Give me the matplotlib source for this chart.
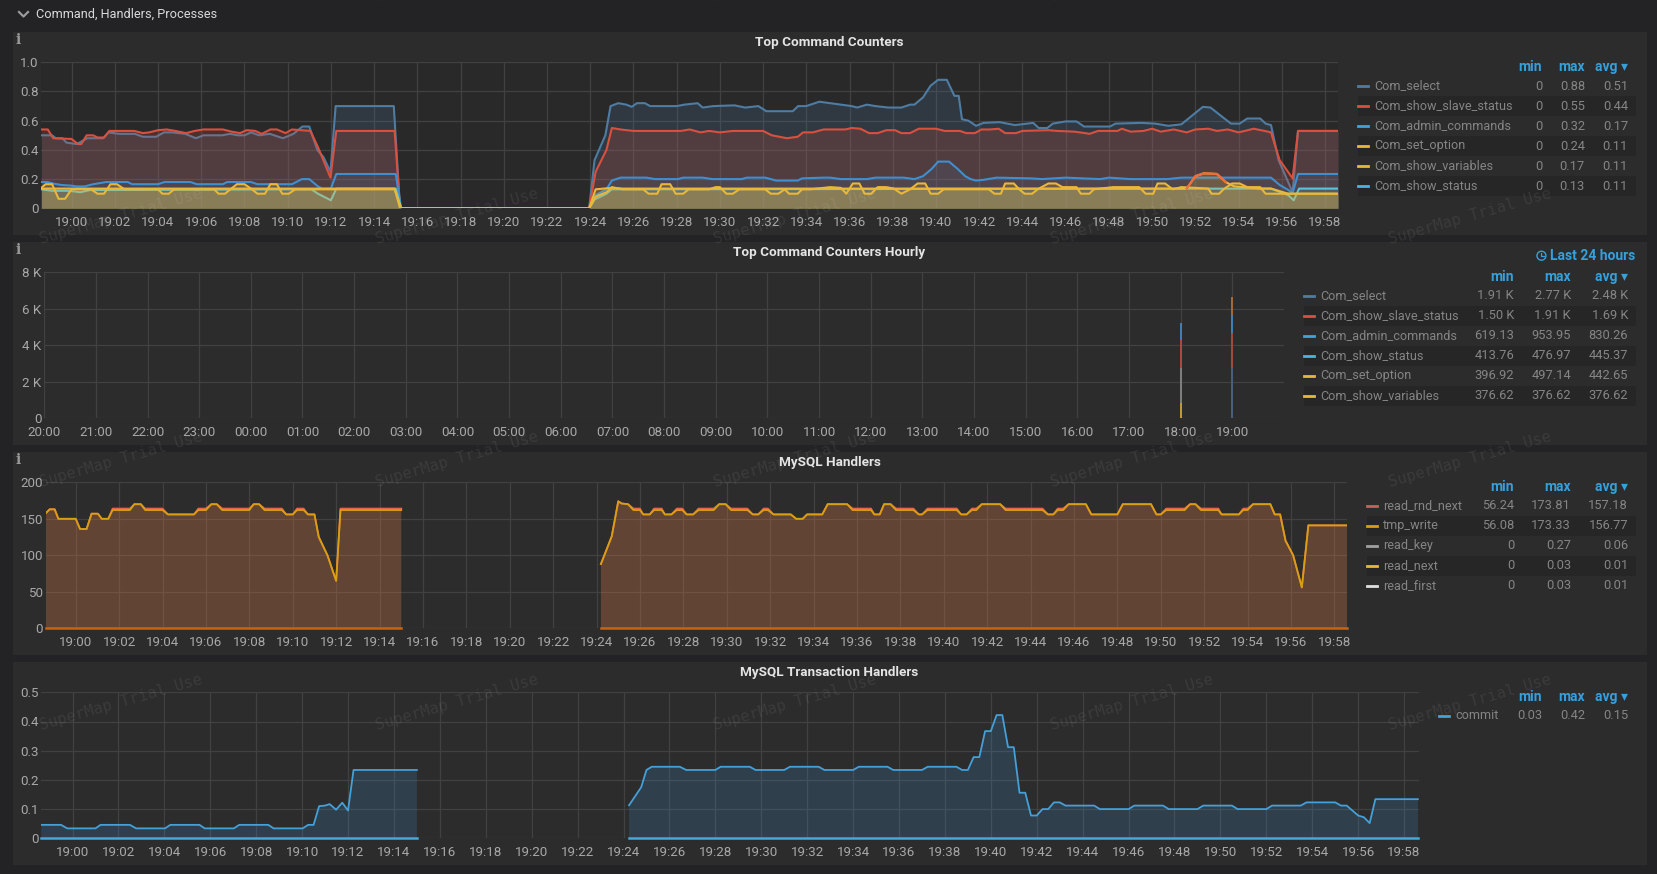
import numpy as np
import matplotlib
matplotlib.use("Agg")
import matplotlib.pyplot as plt
from matplotlib.lines import Line2D
from matplotlib.patches import Rectangle

W, H = 1657, 874
nan = np.nan
plt.rcParams['font.family'] = ['Roboto', 'DejaVu Sans']

# Top Command Counters: as (minute after 19:00, value)
t_select = [-1.4,-.9,-.73,-.42,-.24,.24,.73,1.47,1.71,2.2,2.93,3.3,3.91,4.28,4.65,5.26,5.75,6.11,6.97,7.33,7.7,8.0,8.31,8.68,9.17,9.78,10.27,10.68,11.0,11.37,11.66,11.98,12.22,14.91,15.2,23.95,24.2,24.7,24.94,25.3,25.67,25.92,26.16,26.53,26.77,28,28.36,28.97,29.2,29.7,30.68,31.17,31.78,32.15,33.37,33.62,33.99,34.6,35.1,36.1,36.35,36.8,37.2,37.8,38.4,38.8,39,39.4,39.75,40.1,40.5,40.85,41.05,41.2,41.5,41.85,42.2,42.95,43.65,44.5,44.75,45.15,45.4,46,46.5,46.85,48.05,48.3,49.5,50.15,50.75,51.35,51.85,52.35,52.7,53.3,53.65,54.05,54.4,55,55.25,55.5,55.85,56.5,56.75,58.6]
v_select = [.50,.50,.48,.48,.45,.44,.48,.48,.52,.51,.51,.49,.49,.52,.52,.51,.48,.50,.50,.51,.50,.50,.52,.50,.51,.48,.51,.56,.56,.40,.35,.25,.70,.70,0,0,.33,.50,.70,.72,.71,.695,.72,.72,.70,.70,.71,.72,.69,.70,.705,.69,.70,.665,.665,.70,.70,.73,.72,.70,.69,.71,.70,.69,.69,.71,.71,.76,.84,.88,.88,.77,.77,.61,.60,.565,.585,.59,.57,.585,.55,.55,.58,.595,.595,.56,.56,.58,.585,.58,.565,.575,.635,.695,.69,.62,.58,.58,.615,.615,.58,.57,.33,.11,.53,.53]

t_slave = [-1.4,-1.1,-.85,0,.3,.45,.7,1,1.2,1.5,1.75,2.9,3.3,3.6,4,4.4,4.8,5.3,5.7,6.1,7,7.4,7.8,8.1,8.5,8.8,9.2,9.5,9.9,10.2,11.05,11.4,11.98,12.25,14.95,15.2,23.95,24.25,24.75,25,25.4,26,28.2,28.6,29.1,29.5,30,30.6,32,32.4,33.1,33.6,33.85,34.3,34.8,35.1,35.8,36.1,36.5,36.9,37.3,37.7,38.1,38.4,38.8,39.2,40,40.4,41.1,41.4,41.8,42.1,42.5,42.9,43.2,43.7,44,45.2,45.6,46.4,46.9,47.1,47.5,48.4,48.6,49,49.6,50,50.4,51,51.6,52,52.6,53,53.5,54,54.7,55.2,55.5,55.9,56.5,56.75,58.6]
v_slave = [.54,.54,.48,.475,.44,.44,.50,.50,.485,.485,.53,.53,.515,.52,.535,.54,.53,.515,.53,.54,.54,.525,.515,.535,.53,.51,.54,.54,.515,.54,.53,.42,.21,.53,.53,0,0,.25,.40,.55,.54,.53,.53,.54,.52,.53,.52,.53,.53,.50,.48,.49,.52,.52,.54,.54,.54,.55,.545,.515,.515,.535,.535,.515,.515,.545,.545,.53,.53,.515,.515,.54,.54,.545,.515,.515,.53,.535,.53,.525,.515,.51,.53,.53,.545,.525,.53,.545,.525,.54,.52,.54,.545,.53,.54,.52,.545,.53,.52,.33,.205,.53,.53]

t_admin = [-1.4,-1.1,-.86,-.49,0,.25,.6,1,1.6,2.6,2.8,4,4.3,5.5,5.8,7,7.2,8.3,8.6,10.2,10.66,11,11.4,11.6,12,12.25,15,15.25,23.95,24.25,24.75,25,25.4,26.6,27,28.06,28.3,29.2,29.65,31,31.25,32.1,32.6,33.6,33.8,34.8,35.1,35.6,36.8,37.2,38.5,39,39.4,39.8,40.1,40.6,41,41.35,41.6,41.85,42.2,42.8,44.4,44.9,46,47.6,48,49,50.7,51.35,55.5,55.9,56.25,56.5,56.75,58.6]
v_admin = [.18,.18,.17,.16,.155,.15,.15,.165,.18,.18,.165,.165,.18,.18,.165,.165,.18,.18,.165,.165,.20,.20,.15,.135,.135,.235,.235,0,0,.09,.13,.19,.21,.21,.20,.20,.21,.21,.20,.20,.21,.21,.19,.19,.205,.21,.21,.20,.20,.21,.21,.20,.22,.27,.32,.32,.27,.22,.20,.19,.195,.21,.205,.20,.21,.20,.21,.20,.20,.21,.21,.16,.13,.105,.235,.235]

t_set = [-1.4,14.95,15.2,23.95,24.25,25,25.5,51.6,52,52.4,53,53.4,53.8,55,55.5,56.3,58.6]
v_set = [.135,.135,0,0,.13,.14,.135,.135,.22,.24,.235,.18,.15,.135,.135,.10,.10]

t_vars = [-1.4,-1.2,-.9,-.6,-.3,0,.9,1.2,1.5,1.8,2.1,2.45,4,4.2,4.5,4.75,6.6,6.8,7.1,7.35,7.65,8,8.35,8.6,8.95,9.2,9.5,9.75,10.05,10.35,12,14.95,15.25,23.95,24.25,24.75,25,25.5,26.45,26.7,27.1,27.3,27.7,27.95,28.3,28.55,29.5,29.8,30,30.3,30.6,30.9,32.1,32.35,32.7,33,33.2,33.6,33.8,34.2,35.1,35.6,35.85,36.15,36.45,36.7,37,37.3,37.7,38.05,38.4,38.8,39.15,39.5,39.75,40.1,40.35,42.45,42.7,43,43.2,43.6,43.85,44.1,44.45,44.7,45.2,45.55,45.85,46.5,46.7,47.1,47.3,48.2,49.4,49.7,50.05,50.25,50.6,50.95,51.35,52.6,52.75,53.1,53.3,53.7,54.05,54.4,55,55.25,56.35,58.6]
v_vars = [.14,.165,.165,.065,.065,.13,.13,.10,.10,.165,.165,.13,.13,.10,.10,.13,.13,.10,.10,.13,.165,.165,.13,.10,.10,.165,.165,.10,.10,.13,.13,.13,0,0,.08,.11,.145,.13,.13,.10,.10,.165,.165,.10,.10,.13,.13,.145,.145,.10,.10,.13,.13,.10,.10,.13,.10,.10,.13,.13,.145,.14,.10,.17,.17,.10,.10,.145,.145,.135,.10,.13,.17,.17,.10,.10,.13,.13,.10,.10,.17,.17,.13,.10,.10,.13,.17,.17,.145,.145,.10,.10,.13,.145,.145,.10,.10,.17,.17,.13,.145,.135,.10,.10,.13,.17,.17,.145,.145,.10,.10,.10]

t_status = [-1.4,-.9,-.1,.4,.85,11.1,11.4,12,12.25,15,15.25,23.95,24.2,24.75,25,55.5,56.3,56.55,56.8,58.6]
v_status = [.13,.12,.12,.11,.125,.13,.10,.055,.135,.135,0,0,.06,.10,.13,.135,.09,.055,.135,.135]

# MySQL Handlers
t_tmp = [-1.37,-1.2,-.97,-.8,0,.2,.5,.73,1.02,1.2,1.5,1.7,2.5,2.7,3,3.2,4,4.25,5.45,5.65,6,6.25,6.5,6.75,8,8.2,8.45,8.7,9.5,9.7,10,10.2,10.5,10.7,11,11.2,11.6,12,12.2,15,15.01,24.19,24.2,24.7,25,25.15,25.45,25.7,26,26.15,26.45,26.65,27,27.15,27.45,27.7,27.95,28.15,28.45,28.7,29.4,29.65,29.95,30.2,30.95,31.2,31.45,31.7,31.9,32.15,32.95,33.2,33.5,33.7,34.4,34.65,35.55,35.8,36.65,36.8,37.05,37.25,37.55,37.8,38.6,38.85,39,39.25,40.6,40.8,41.05,41.3,41.5,41.75,42.6,42.85,44.55,44.8,45.05,45.25,45.5,45.75,46.55,46.8,48,48.25,49.55,49.8,50,50.25,51.1,51.35,51.6,51.85,52.65,52.8,53.6,53.8,54,54.25,55.05,55.25,55.5,55.75,56.1,56.5,56.8,58.6]
v_tmp = [158,163,163,150,150,136,136,157,157,150,150,162,162,170,170,162,162,156,156,162,162,170,170,162,162,170,170,162,162,156,156,162,162,156,156,125,100,65,162,162,nan,nan,88,126,174,171,170,162,162,156,156,162,162,156,156,162,162,156,156,162,162,170,170,162,162,156,156,162,162,156,156,150,150,156,156,170,170,162,162,156,156,170,170,162,162,156,156,162,162,156,156,162,162,170,170,162,162,156,156,162,162,170,170,156,156,170,170,156,156,162,162,170,170,162,162,156,156,162,162,170,170,156,156,120,100,56,141,141]
t_rnd = [-1.37,-1.2,-.97,-.8,0,.2,.5,.73,1.02,1.2,1.5,1.7,2.5,2.7,3,3.2,4,4.25,5.45,5.65,6,6.25,6.5,6.75,8,8.2,8.45,8.7,9.5,9.7,10,10.2,10.5,10.7,11,11.2,11.6,12,12.2,15,15.01,24.19,24.2,24.7,25,25.15,25.45,25.7,26,26.15,26.45,26.65,27,27.15,27.45,27.7,27.95,28.15,28.45,28.7,29.4,29.65,29.95,30.2,30.95,31.2,31.45,31.7,31.9,32.15,32.95,33.2,33.5,33.7,34.4,34.65,35.55,35.8,36.65,36.8,37.05,37.25,37.55,37.8,38.6,38.85,39,39.25,40.6,40.8,41.05,41.3,41.5,41.75,42.6,42.85,44.55,44.8,45.05,45.25,45.5,45.75,46.55,46.8,48,48.25,49.55,49.8,50,50.25,51.1,51.35,51.6,51.85,52.65,52.8,53.6,53.8,54,54.25,55.05,55.25,55.5,55.75,56.1,56.5,56.8,58.6]
v_rnd = [158,163,163,150,150,136,136,157,157,150,150,164,164,170,170,164,164,156,156,164,164,170,170,164,164,170,170,164,164,156,156,164,164,156,156,125,100,65,164,164,nan,nan,88,126,174,171,170,164,164,156,156,164,164,156,156,164,164,156,156,164,164,170,170,164,164,156,156,164,164,156,156,150,150,156,156,170,170,164,164,156,156,170,170,164,164,156,156,164,164,156,156,164,164,170,170,164,164,156,156,164,164,170,170,156,156,170,170,156,156,164,164,170,170,164,164,156,156,164,164,170,170,156,156,120,100,56,141,141]

# MySQL Transaction Handlers
t_commit = [-1.36,-.5,-.23,1,1.22,2.5,2.77,4.03,4.26,5.53,5.76,7.03,7.26,8.53,8.76,10.03,10.26,10.5,10.74,11,11.2,11.48,11.75,12,12.24,15,15.01,24.23,24.24,24.77,25,25.23,26.45,26.73,28,28.23,29.5,29.75,31,31.25,32.5,32.75,34,34.25,35.5,35.75,37,37.25,38.5,38.75,39,39.25,39.5,39.75,40,40.25,40.5,40.75,41,41.25,41.5,41.75,42,42.25,42.5,42.75,43,43.25,44.5,44.75,46,46.25,47.5,47.75,49,49.25,50.5,50.75,52,52.25,53.5,53.75,55,55.25,55.5,56,56.25,56.5,56.75,58.6]
v_commit = [.046,.046,.034,.034,.046,.046,.034,.034,.046,.046,.034,.034,.046,.046,.034,.034,.046,.046,.11,.112,.117,.098,.122,.095,.234,.234,nan,nan,.113,.175,.234,.245,.245,.234,.234,.245,.245,.234,.234,.245,.245,.234,.234,.245,.245,.234,.234,.245,.245,.234,.234,.278,.278,.367,.367,.422,.422,.312,.312,.156,.156,.078,.078,.10,.10,.123,.123,.112,.112,.10,.10,.112,.112,.10,.10,.112,.112,.10,.10,.112,.112,.123,.123,.112,.112,.078,.072,.052,.134,.134]

# Top Command Counters Hourly: stacked pieces at the two hours that have data
hour_18 = [820, 1920, 1550, 910]
hour_19 = [2740, 1920, 1000, 1010]

minute_ticks = np.arange(0, 60, 2)
minute_labels = ['19:%02d' % m for m in minute_ticks]
hour_labels = ['20:00','21:00','22:00','23:00','00:00','01:00','02:00','03:00','04:00','05:00','06:00','07:00','08:00','09:00','10:00','11:00','12:00','13:00','14:00','15:00','16:00','17:00','18:00','19:00']

legend_top_names = ['Com_select','Com_show_slave_status','Com_admin_commands','Com_set_option','Com_show_variables','Com_show_status']
legend_top_min = ['0','0','0','0','0','0']
legend_top_max = ['0.88','0.55','0.32','0.24','0.17','0.13']
legend_top_avg = ['0.51','0.44','0.17','0.11','0.11','0.11']
legend_hourly_names = ['Com_select','Com_show_slave_status','Com_admin_commands','Com_show_status','Com_set_option','Com_show_variables']
legend_hourly_min = ['1.91 K','1.50 K','619.13','413.76','396.92','376.62']
legend_hourly_max = ['2.77 K','1.91 K','953.95','476.97','497.14','376.62']
legend_hourly_avg = ['2.48 K','1.69 K','830.26','445.37','442.65','376.62']
legend_hand_names = ['read_rnd_next','tmp_write','read_key','read_next','read_first']
legend_hand_min = ['56.24','56.08','0','0','0']
legend_hand_max = ['173.81','173.33','0.27','0.03','0.03']
legend_hand_avg = ['157.18','156.77','0.06','0.01','0.01']

BLUE_D, RED, BLUE, YEL, SKY = '#4f7ca2', '#d9503f', '#3fa4dc', '#eab839', '#48b4e0'
PAGE, PANEL, PLOT = '#232325', '#2c2c2c', '#292929'
GRID, TICK, LEG = '#414141', '#a8a8a8', '#858585'
HEAD = '#35a0dc'

fig = plt.figure(figsize=(W / 100, H / 100), dpi=100, facecolor=PAGE)


def fx(x):
    return x / W


def fy(y):
    return 1 - y / H


def panel_box(x0, y0, x1, y1):
    fig.add_artist(Rectangle((fx(x0), fy(y1)), (x1 - x0) / W, (y1 - y0) / H, transform=fig.transFigure,
                             facecolor=PANEL, edgecolor='none', zorder=-5))


def make_axes(x0, y0, x1, y1, xlim, ylim, xticks, xlabels, yticks, ylabels, bg=PANEL):
    ax = fig.add_axes([fx(x0), fy(y1), (x1 - x0) / W, (y1 - y0) / H], facecolor=bg)
    ax.set_xlim(xlim)
    ax.set_ylim(ylim)
    ax.set_xticks(xticks, xlabels)
    ax.set_yticks(yticks, ylabels)
    ax.tick_params(length=0, colors=TICK, labelsize=9.6)
    ax.tick_params(axis='x', pad=5.5)
    ax.tick_params(axis='y', pad=2)
    ax.grid(True, color=GRID, lw=0.9)
    ax.set_axisbelow(True)
    for s in ax.spines.values():
        s.set_visible(False)
    return ax


def legend_table(names, mins, maxs, avgs, colors, head_y, sw_x, text_x, cols, band_right):
    rows = len(names)
    for lab, cx in zip(['min', 'max', 'avg \u25be'], cols):
        fig.text(fx(cx), fy(head_y), lab, color=HEAD, fontsize=10, fontweight='bold', ha='right', va='center')
    for i in range(rows):
        y = head_y + 19 + 20 * i
        if i % 2 == 1:
            fig.add_artist(Rectangle((fx(sw_x), fy(y + 10)), (band_right - sw_x) / W, 20 / H,
                                     transform=fig.transFigure, facecolor='#262626', edgecolor='none', zorder=-4))
        fig.add_artist(Line2D([fx(sw_x), fx(sw_x + 10)], [fy(y), fy(y)], color=colors[i], lw=2))
        fig.text(fx(text_x), fy(y), names[i], color=LEG, fontsize=9.1, ha='left', va='center')
        for val, cx in zip([mins[i], maxs[i], avgs[i]], cols):
            fig.text(fx(cx), fy(y), val, color=LEG, fontsize=9.3, ha='right', va='center')


def area(ax, t, v, color, alpha=0.2, lw=1.5, z=3):
    ax.fill_between(t, 0, v, color=color, alpha=alpha, lw=0, zorder=z)
    ax.plot(t, v, color=color, lw=lw, zorder=z + 0.1, solid_joinstyle='round')


# panels
for box in [(13, 32, 1647, 235), (13, 242, 1647, 445), (13, 452, 1647, 655), (13, 662, 1647, 865)]:
    panel_box(*box)

# section header
fig.add_artist(Line2D([fx(19), fx(23.5), fx(28)], [fy(12), fy(16.5), fy(12)], color='#9a9a9a', lw=1.6))
fig.text(fx(36), fy(14), 'Command, Handlers, Processes', color='#d8d9da', fontsize=9.2, ha='left', va='center')

# Top Command Counters
ax1 = make_axes(41.3, 62.3, 1338, 208.3, (-1.4, 58.6), (0, 1.0), minute_ticks, minute_labels,
                [0, .2, .4, .6, .8, 1.0], ['0', '0.2', '0.4', '0.6', '0.8', '1.0'], bg=PLOT)
area(ax1, t_select, v_select, BLUE_D, z=3)
area(ax1, t_slave, v_slave, RED, z=3.2)
area(ax1, t_admin, v_admin, '#3f8fd0', alpha=0.1, z=3.4)
area(ax1, t_status, v_status, '#5fc4d8', z=3.6)
area(ax1, t_set, v_set, YEL, z=3.8)
area(ax1, t_vars, v_vars, YEL, z=4)
ax1.plot(t_set[7:12], v_set[7:12], color='#ef6a3c', lw=1.6, zorder=5)
fig.text(fx(829.5), fy(42.5), 'Top Command Counters', color='#e4e4e4', fontsize=9.7, fontweight='bold', ha='center', va='center')
legend_table(legend_top_names, legend_top_min, legend_top_max, legend_top_avg,
             [BLUE_D, RED, BLUE, YEL, YEL, SKY], 67, 1358, 1374, (1542, 1585, 1628), 1636)

# Top Command Counters Hourly
ax2 = make_axes(44.2, 272.3, 1284, 418.3, (0, 24), (0, 8000), np.arange(24), hour_labels,
                [0, 2000, 4000, 6000, 8000], ['0', '2 K', '4 K', '6 K', '8 K'])
colors_18 = ['#c09a30', '#7d7d7d', '#b0493c', '#3f7fb5']
colors_19 = ['#46607c', '#a04a3a', '#3f7fb5', '#a06a3c']
for hour_x, pieces, cols in [(22, hour_18, colors_18), (23, hour_19, colors_19)]:
    ax2.bar([hour_x] * len(pieces), pieces, bottom=np.r_[0, np.cumsum(pieces)[:-1]], width=0.035, color=cols, zorder=3)
fig.text(fx(829.5), fy(252.7), 'Top Command Counters Hourly', color='#e4e4e4', fontsize=9.7, fontweight='bold', ha='center', va='center')
last = fig.text(fx(1635.7), fy(255.7), 'Last 24 hours', color=HEAD, fontsize=10, fontweight='bold', ha='right', va='center')
fig.canvas.draw()
bb = last.get_window_extent()
fig.add_artist(plt.Circle((bb.x0 - 9, bb.y0 + bb.height / 2), 4.5, transform=None, fill=False, edgecolor=HEAD, lw=1))
fig.add_artist(Line2D([bb.x0 - 9, bb.x0 - 9, bb.x0 - 6.5], [bb.y0 + bb.height / 2 + 3, bb.y0 + bb.height / 2, bb.y0 + bb.height / 2],
                      transform=None, color=HEAD, lw=0.9))
legend_table(legend_hourly_names, legend_hourly_min, legend_hourly_max, legend_hourly_avg,
             [BLUE_D, RED, BLUE, SKY, YEL, YEL], 276.7, 1304, 1320, (1514, 1571, 1628), 1636)

# MySQL Handlers
ax3 = make_axes(46, 482.3, 1347.4, 628.3, (-1.37, 58.6), (0, 200), minute_ticks, minute_labels,
                [0, 50, 100, 150, 200], ['0', '50', '100', '150', '200'])
ax3.fill_between(t_rnd, 0, v_rnd, color='#e0704f', alpha=0.25, lw=0, zorder=3)
ax3.fill_between(t_tmp, 0, v_tmp, color='#d8a040', alpha=0.08, lw=0, zorder=3.1)
ax3.plot(t_rnd, v_rnd, color='#e0654a', lw=1.3, zorder=3.4)
ax3.plot(t_tmp, v_tmp, color='#d8a010', lw=1.3, zorder=3.6)
ax3.plot(t_tmp, np.where(np.isnan(v_tmp), nan, 0), color='#c8640f', lw=1.8, zorder=4, clip_on=False)
fig.text(fx(829.5), fy(462.7), 'MySQL Handlers', color='#e4e4e4', fontsize=9.7, fontweight='bold', ha='center', va='center')
legend_table(legend_hand_names, legend_hand_min, legend_hand_max, legend_hand_avg,
             ['#c9605a', '#d8a010', '#a0a0a0', YEL, '#e0e0e0'], 486.7, 1367, 1383, (1514, 1571, 1628), 1636)

# MySQL Transaction Handlers
ax4 = make_axes(41.3, 692.3, 1419, 838.3, (-1.36, 58.65), (0, 0.5), minute_ticks, minute_labels,
                [0, .1, .2, .3, .4, .5], ['0', '0.1', '0.2', '0.3', '0.4', '0.5'])
ax4.fill_between(t_commit, 0, v_commit, color='#3f8fd0', alpha=0.2, lw=0, zorder=3)
ax4.plot(t_commit, v_commit, color='#44a0d8', lw=1.3, zorder=3.5)
ax4.plot(t_commit, np.where(np.isnan(v_commit), nan, 0), color='#44a8d8', lw=1.8, zorder=4, clip_on=False)
fig.text(fx(829.5), fy(672.7), 'MySQL Transaction Handlers', color='#e4e4e4', fontsize=9.7, fontweight='bold', ha='center', va='center')
legend_table(['commit'], ['0.03'], ['0.42'], ['0.15'], [BLUE], 696.7, 1439, 1455, (1542, 1585, 1628), 1636)

# info marks
for y in (40, 249.5, 460):
    fig.text(fx(18.5), fy(y), 'i', color='#9a9a9a', fontsize=10, fontweight='bold', family='DejaVu Serif', ha='center', va='center')

# watermark
for row_y in (4, 247, 490, 733):
    for col_x in (42, 378, 716, 1053, 1391):
        fig.text(fx(col_x), fy(row_y), 'SuperMap Trial Use', color='#ffffff', alpha=0.075, fontsize=11.2,
                 family='DejaVu Sans Mono', rotation=16, rotation_mode='anchor', ha='left', va='bottom', zorder=20)

fig.savefig('out.png', dpi=100, facecolor=PAGE)
